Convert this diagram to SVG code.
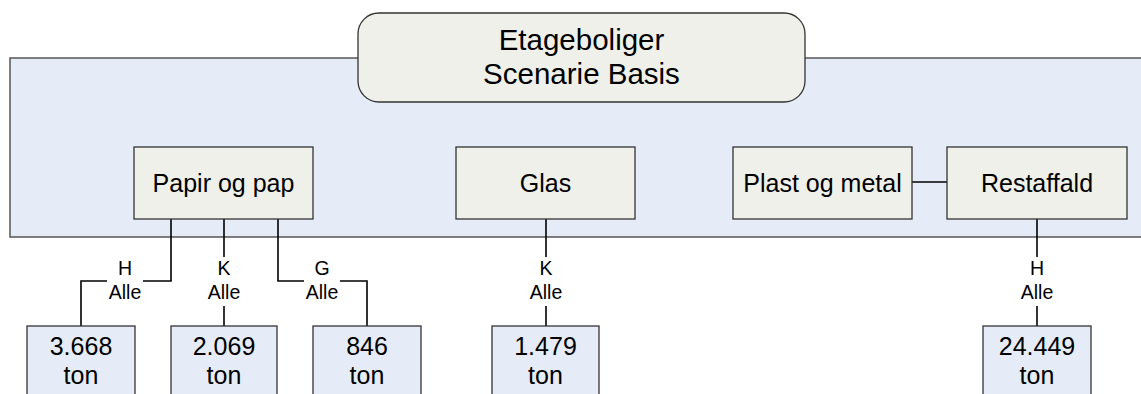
<svg xmlns="http://www.w3.org/2000/svg" width="1141" height="394" viewBox="0 0 1141 394">
<style>
  text { font-family: "Liberation Sans", Arial, sans-serif; fill: #000; text-anchor: middle; }
  .band { fill: #e6ecf7; stroke: #555; stroke-width: 1.5; }
  .node { fill: #f0f0ea; stroke: #333; stroke-width: 1.3; }
  .val { fill: #e6ecf7; stroke: #333; stroke-width: 1.3; }
  .big { font-size: 25px; }
  .title { font-size: 29.5px; }
  .lab { font-size: 19.5px; }
  .conn { fill: none; stroke: #000; stroke-width: 1.6; }
  .lbg { fill: #fff; }
</style>
<rect class="band" x="10" y="58" width="1140" height="179"/>
<g id="title">
  <rect class="node" x="358" y="13" width="447" height="89" rx="21" ry="21"/>
  <text class="title" x="581.5" y="50">Etageboliger</text>
  <text class="title" x="581.5" y="84">Scenarie Basis</text>
</g>
<g id="connectors">
  <path class="conn" d="M171 219 V281 H81 V326"/>
  <path class="conn" d="M224 219 V326"/>
  <path class="conn" d="M278 219 V281 H367 V326"/>
  <path class="conn" d="M546 219 V326"/>
  <path class="conn" d="M912 182 H947"/>
  <path class="conn" d="M1037 219 V326"/>
  <g id="label-h1"><rect class="lbg" x="107" y="257" width="36" height="49"/><text class="lab" x="125" y="275">H</text><text class="lab" x="125" y="299">Alle</text></g>
  <g id="label-k1"><rect class="lbg" x="206" y="257" width="36" height="49"/><text class="lab" x="224" y="275">K</text><text class="lab" x="224" y="299">Alle</text></g>
  <g id="label-g1"><rect class="lbg" x="304" y="257" width="36" height="49"/><text class="lab" x="322" y="275">G</text><text class="lab" x="322" y="299">Alle</text></g>
  <g id="label-k2"><rect class="lbg" x="528" y="257" width="36" height="49"/><text class="lab" x="546" y="275">K</text><text class="lab" x="546" y="299">Alle</text></g>
  <g id="label-h2"><rect class="lbg" x="1019" y="257" width="36" height="49"/><text class="lab" x="1037" y="275">H</text><text class="lab" x="1037" y="299">Alle</text></g>
</g>
<g id="papir">
  <rect class="node" x="134" y="147" width="179" height="72"/>
  <text class="big" x="223.5" y="192">Papir og pap</text>
</g>
<g id="glas">
  <rect class="node" x="456" y="147" width="179" height="72"/>
  <text class="big" x="545.5" y="192">Glas</text>
</g>
<g id="plast">
  <rect class="node" x="733" y="147" width="179" height="72"/>
  <text class="big" x="822.5" y="192">Plast og metal</text>
</g>
<g id="restaffald">
  <rect class="node" x="947" y="147" width="180" height="72"/>
  <text class="big" x="1037" y="192">Restaffald</text>
</g>
<g id="v1">
  <rect class="val" x="27" y="326" width="108" height="90"/>
  <text class="big" x="81" y="355">3.668</text>
  <text class="big" x="81" y="384">ton</text>
</g>
<g id="v2">
  <rect class="val" x="171" y="326" width="106" height="90"/>
  <text class="big" x="224" y="355">2.069</text>
  <text class="big" x="224" y="384">ton</text>
</g>
<g id="v3">
  <rect class="val" x="313" y="326" width="108" height="90"/>
  <text class="big" x="367" y="355">846</text>
  <text class="big" x="367" y="384">ton</text>
</g>
<g id="v4">
  <rect class="val" x="492" y="326" width="107" height="90"/>
  <text class="big" x="545.5" y="355">1.479</text>
  <text class="big" x="545.5" y="384">ton</text>
</g>
<g id="v5">
  <rect class="val" x="983" y="326" width="108" height="90"/>
  <text class="big" x="1037" y="355">24.449</text>
  <text class="big" x="1037" y="384">ton</text>
</g>
</svg>
